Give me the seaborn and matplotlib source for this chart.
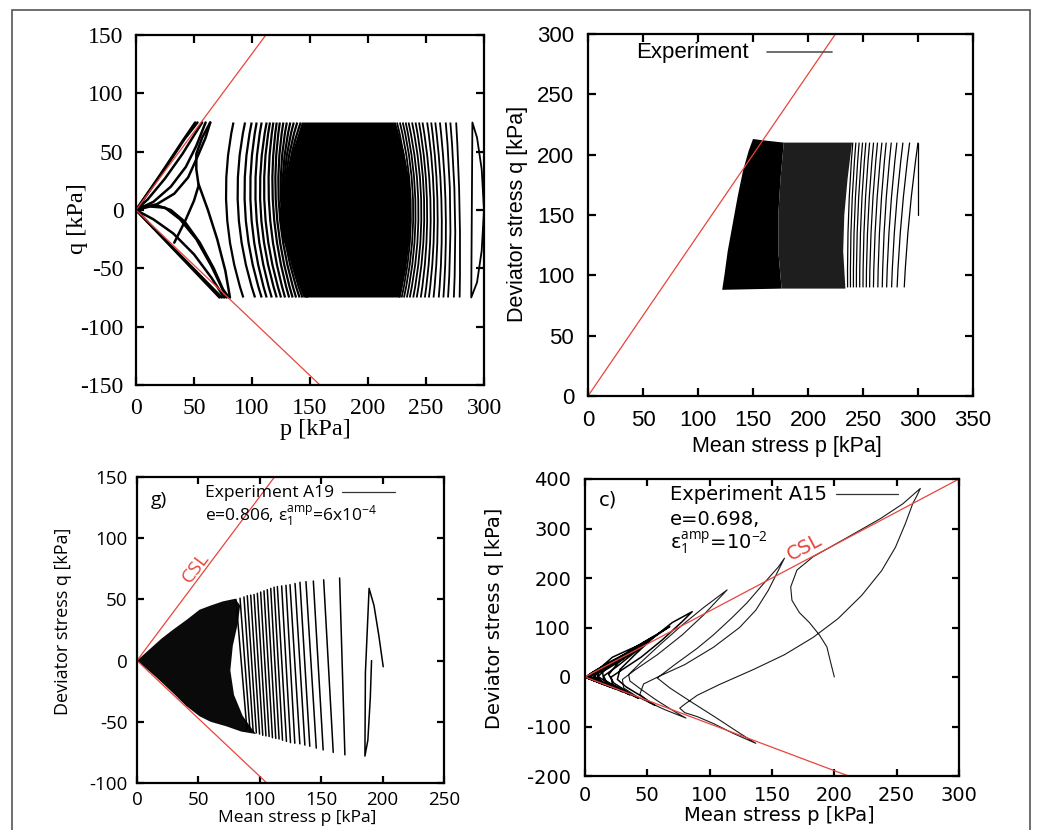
import numpy as np
import pandas as pd
import seaborn as sns
import matplotlib.pyplot as plt
from matplotlib.path import Path
from matplotlib.patches import PathPatch, Rectangle

sns.set_theme(style='ticks')
plt.rcParams['font.family'] = ['DejaVu Sans']
plt.rcParams['mathtext.fontset'] = 'custom'
plt.rcParams['mathtext.rm'] = 'Open Sans'
plt.rcParams['mathtext.default'] = 'rm'
plt.rcParams['axes.unicode_minus'] = False
plt.rcParams['text.color'] = 'black'
plt.rcParams['xtick.color'] = 'black'
plt.rcParams['ytick.color'] = 'black'

# ---------------- data ----------------
# critical state line slopes (compression / extension)
m_comp = 1.34
m_ext = -0.946

# panel a (simulation): q amplitude 75 kPa
a_amp = 75
a_first_p = [300, 298, 294, 290, 289, 294, 298, 300]
a_first_q = [0, 35, 62, 75, -75, -62, -35, 0]
a_right_top = [276, 271, 267, 262, 258, 254.5, 251, 247, 244, 241, 238, 235, 232.5, 230, 227.5, 225]
a_right_mid = [279, 275, 271, 267, 263.5, 260, 257, 254, 251, 248.5, 246, 243.5, 241, 239, 237, 235]
a_right_bot = [279, 274, 269, 265, 261, 256.5, 252.5, 249, 245.5, 242, 239, 236, 233.5, 231, 229, 227]
a_left_top = [84, 94, 99.7, 104, 108.3, 112.6, 115.5, 118.4, 121.3, 124, 127, 130, 133, 136, 139, 142]
a_left_mid = [78, 88, 94, 99, 103.4, 107.4, 111, 115, 118.4, 121, 123.5, 125.5, 127, 128, 129, 130]
a_left_bot = [92.5, 102.6, 108.3, 112.6, 117, 121.3, 125, 128.5, 132, 135, 138, 141, 143.5, 145.5, 147, 148]
a_dense_p = [143, 135, 128, 124, 125, 132, 140, 147, 228, 233, 236, 237, 236, 231, 224]
a_dense_q = [75, 50, 25, 0, -20, -40, -60, -75, -75, -50, -25, 0, 25, 50, 75]
a_fly_p = [[0, 20, 40, 51], [0, 22, 42, 53], [0, 10, 25, 40, 50, 57], [0, 15, 30, 43, 52, 60],
           [2, 18, 33, 45, 54, 60, 64], [64, 57, 52, 52, 54, 50, 43, 37, 33],
           [54, 62, 70, 77, 81], [0, 72], [0, 74], [0, 15, 32, 50, 65, 76],
           [0, 12, 25, 38, 52, 65, 78], [5, 18, 30, 42, 55, 67, 75, 80]]
a_fly_q = [[0, 29, 59, 75], [0, 31, 61, 75], [0, 9, 27, 48, 64, 75], [0, 7, 20, 37, 55, 75],
           [1, 5, 14, 28, 48, 62, 75], [75, 62, 48, 35, 21, 8, -8, -20, -28],
           [22, 0, -25, -52, -75], [0, -75], [0, -75], [0, -8, -20, -38, -58, -75],
           [0, 3, 2, -8, -25, -48, -75], [3, 4, 0, -10, -28, -50, -68, -75]]

# panel b (experiment): strokes between q_lo and q_hi
b_q_hi = 210
b_q_lo = 90
b_start_p = [300, 300]
b_start_q = [150, 210]
b_top = [300, 292.4, 286.3, 280.8, 275.7, 271.1, 267.2, 263.2, 259.6, 256, 252.6, 249.6, 246.5,
         243.5, 240.7]
b_bot = [287.5, 281, 276, 271.5, 267.5, 263.5, 259.5, 256, 253, 250, 247, 244, 241.3, 238.6, 236]
b_black_p = [122, 124, 127, 131, 136, 141, 146, 150, 158, 178, 175, 173, 173, 176]
b_black_q = [88, 100, 120, 140, 165, 187, 203, 213, 212, 210, 180, 150, 120, 89]
b_moire_p = [176, 173, 173, 175, 178, 240, 236, 233, 232, 234]
b_moire_q = [89, 120, 150, 180, 210, 210, 180, 150, 120, 89]

# panel c (experiment A19)
c_first_p = [200.5, 197, 193, 189, 186, 185.6, 188, 190, 191]
c_first_q = [-5, 20, 45, 59, -10, -78, -65, -30, 0]
c_top_p = [165, 152, 143.6, 137.6, 132.7, 128.7, 124.6, 121.3, 117.8, 114.3, 111.6, 108.9,
           106.1, 103.4, 100.7, 98, 95.3, 92.6, 89.8, 87.1, 83.9, 80.6]
c_top_q = [67.5, 66, 65, 64.5, 64, 63, 62, 61.5, 61, 60.5, 60, 59, 58, 57, 56, 55, 54, 53.5,
           53, 52, 51, 50]
c_bot_p = [169.3, 159.8, 151.6, 146, 140.7, 136.7, 132.6, 128.5, 125, 121.7, 118.5, 115.7,
           113, 110.3, 107.6, 105, 102.4, 99.8, 97.2, 94.6, 92, 89.5]
c_bot_q = [-77, -75, -73, -71.5, -70, -69, -68, -67.5, -67, -66, -65, -64, -63.5, -63, -62,
           -61.5, -61, -60, -59, -58, -57, -56]
c_dense_p = [0, 10, 20, 29, 40, 51, 60, 70, 80, 84, 82, 78, 76, 79, 86, 93, 97, 85, 72.8, 60,
             51, 40, 29.3, 15]
c_dense_q = [0, 9, 18, 25, 33, 41.6, 45, 48.4, 50.5, 45, 30, 12, -8, -28, -45, -55, -60, -58,
             -53.7, -50, -45.5, -37, -26.4, -13]

# panel d (experiment A15): one continuous stress path, large cycles first
d_big_p = [200, 197, 194, 188, 180, 172, 166, 165, 170, 183, 207, 237, 255, 269,
           266, 263, 257, 249, 238, 222, 203, 183, 160, 135, 108, 90, 80, 76,
           80, 90, 103, 119, 137,
           125, 105, 85, 68, 58, 72, 90, 103, 118, 130, 142, 149, 155, 160,
           155, 147, 137, 124, 103, 80, 60, 47, 44, 52, 64, 81,
           72, 58, 45, 36, 35, 45, 60, 78, 95, 114,
           108, 95, 78, 58, 40, 30, 31, 42, 56]
d_big_q = [0, 30, 61, 85, 110, 130, 155, 182, 216, 243, 277, 320, 350, 381,
           365, 351, 310, 262, 215, 165, 118, 80, 45, 15, -15, -37, -55, -63,
           -72, -80, -94, -114, -134,
           -115, -82, -50, -22, -2, 25, 58, 85, 120, 150, 185, 205, 222, 240,
           215, 175, 135, 100, 60, 25, 2, -14, -35, -52, -66, -83,
           -70, -48, -25, -8, 5, 30, 65, 105, 140, 176,
           160, 125, 85, 45, 14, -5, -22, -40, -57]
# then the small cycles that pile up towards the origin
d_small_p = [56, 46, 33, 26, 28, 40, 55, 70, 86,
             78, 62, 45, 30, 21, 22, 32, 43,
             33, 23, 19, 27, 44, 68,
             55, 40, 25, 15, 18, 36,
             25, 15, 14, 25, 40, 55,
             45, 30, 15, 10, 14, 30,
             18, 10, 12, 22, 35, 45,
             33, 20, 9, 6, 10, 24,
             13, 7, 9, 18, 30, 37,
             26, 14, 5, 4, 8, 20,
             10, 5, 7, 15, 24, 30,
             20, 10, 3, 3, 7, 16,
             8, 3, 5, 12, 20, 24,
             16, 8, 3, 2, 5, 13,
             6, 2, 4, 9, 15, 19,
             12, 6, 2, 2, 4, 10,
             5, 2, 3, 7, 11, 15,
             9, 4, 2, 1, 3, 8,
             3, 1, 2, 5, 8, 11,
             6, 3, 1, 1, 2, 6, 2, 0]
d_small_q = [-57, -40, -20, -5, 15, 45, 80, 110, 132,
             112, 75, 40, 15, 0, -15, -30, -43,
             -28, -12, 5, 30, 65, 102,
             80, 50, 20, 2, -15, -36,
             -20, -5, 10, 35, 60, 82,
             62, 35, 12, 0, -12, -30,
             -12, 2, 18, 40, 55, 66,
             45, 22, 5, -4, -10, -24,
             -8, 2, 14, 28, 44, 52,
             34, 14, 4, -3, -8, -20,
             -6, 1, 11, 22, 34, 42,
             26, 10, 2, -3, -7, -16,
             -4, 0, 8, 17, 28, 34,
             20, 8, 2, -2, -5, -13,
             -3, 0, 6, 13, 22, 27,
             15, 6, 1, -2, -4, -10,
             -2, 0, 4, 9, 15, 21,
             11, 4, 1, -1, -3, -8,
             -1, 0, 3, 7, 12, 15,
             8, 3, 0, -1, -2, -6, -1, 0]

# ---------------- helpers ----------------
W, H = 1038, 830
fig = plt.figure(figsize=(W / 100, H / 100), dpi=100)


def box(x0, y0, x1, y1):
    return [x0 / W, 1 - y1 / H, (x1 - x0) / W, (y1 - y0) / H]


def curves_frame(ps, qs):
    rows = []
    for k, (pp, qq) in enumerate(zip(ps, qs)):
        for i, (p, q) in enumerate(zip(pp, qq)):
            rows.append((k, i, p, q))
    return pd.DataFrame(rows, columns=['unit', 'order', 'p', 'q'])


def bez(ax, start, mid, end, lw, color='black'):
    # smooth quadratic curve passing through start, mid and end readings
    ctrl = (2 * mid[0] - (start[0] + end[0]) / 2, 2 * mid[1] - (start[1] + end[1]) / 2)
    path = Path([start, ctrl, end], [Path.MOVETO, Path.CURVE3, Path.CURVE3])
    ax.add_patch(PathPatch(path, fc='none', ec=color, lw=lw))


def style_axes(ax, xlim, ylim, xstep, ystep, fam, size, tlen, pad_x, pad_y, spine_w):
    ax.set_xlim(*xlim)
    ax.set_ylim(*ylim)
    ax.set_xticks(np.arange(xlim[0], xlim[1] + 1, xstep))
    ax.set_yticks(np.arange(ylim[0], ylim[1] + 1, ystep))
    ax.tick_params(direction='in', length=tlen, width=spine_w, top=True, right=True,
                   labelsize=size, colors='black')
    ax.tick_params(axis='x', pad=pad_x)
    ax.tick_params(axis='y', pad=pad_y)
    for lab in ax.get_xticklabels() + ax.get_yticklabels():
        lab.set_family(fam)
    for s in ax.spines.values():
        s.set_linewidth(spine_w)
        s.set_color('black')
    ax.set_xlabel('')
    ax.set_ylabel('')
    ax.set_facecolor('white')


def csl(ax, xmax, slope, color='#e8453c', lw=0.9):
    xs = np.array([0, xmax])
    sns.lineplot(x=xs, y=slope * xs, color=color, lw=lw, ax=ax, sort=False, estimator=None)


# ---------------- panel a ----------------
ax = fig.add_axes(box(136, 35, 484, 385))
ax.fill(a_dense_p, a_dense_q, color='black', lw=0)
for t, m, b in zip(a_right_top, a_right_mid, a_right_bot):
    bez(ax, (t, a_amp), (m, 0), (b, -a_amp), 1.3)
for t, m, b in zip(a_left_top, a_left_mid, a_left_bot):
    bez(ax, (t, a_amp), (m, 0), (b, -a_amp), 1.6)
sns.lineplot(x=a_first_p, y=a_first_q, sort=False, estimator=None, color='black', lw=1.3, ax=ax)
fly = curves_frame(a_fly_p, a_fly_q)
sns.lineplot(data=fly, x='p', y='q', units='unit', estimator=None, sort=False,
             color='black', lw=1.8, ax=ax, legend=False)
csl(ax, 300, m_comp)
csl(ax, 300, m_ext)
style_axes(ax, (0, 300), (-150, 150), 50, 50, 'Liberation Serif', 17, 6, 9, 9, 1.6)
fig.text(77 / W, 1 - 219 / H, 'q [kPa]', rotation=90, ha='center', va='center',
         family='Liberation Serif', fontsize=17.5)
fig.text(315 / W, 1 - 429 / H, 'p [kPa]', ha='center', va='center',
         family='Liberation Serif', fontsize=17.5)

# ---------------- panel b ----------------
ax = fig.add_axes(box(588, 34, 973, 396))
ax.fill(b_black_p, b_black_q, color='black', lw=0)
ax.fill(b_moire_p, b_moire_q, color='#1e1e1e', lw=0)
for t, b in zip(b_top, b_bot):
    bez(ax, (b, b_q_lo), ((t + b) / 2 - 1.5, (b_q_hi + b_q_lo) / 2), (t, b_q_hi), 0.9)
sns.lineplot(x=b_start_p, y=b_start_q, sort=False, estimator=None, color='black', lw=0.9, ax=ax)
csl(ax, 350, 4 / 3)
style_axes(ax, (0, 350), (0, 300), 50, 50, 'Liberation Sans', 16, 6, 10, 10, 1.6)
ax.plot([0.465, 0.635], [0.95, 0.95], transform=ax.transAxes, color='#555555', lw=1.2)
ax.text(0.125, 0.95, 'Experiment', transform=ax.transAxes, ha='left', va='center',
        family='Liberation Sans', fontsize=16)
fig.text(517 / W, 1 - 214 / H, 'Deviator stress q [kPa]', rotation=90, ha='center', va='center',
         family='Liberation Sans', fontsize=15.5)
fig.text(787 / W, 1 - 446 / H, 'Mean stress p [kPa]', ha='center', va='center',
         family='Liberation Sans', fontsize=15.5)

# ---------------- panel c ----------------
ax = fig.add_axes(box(137, 477, 444, 783))
ax.fill(c_dense_p, c_dense_q, color='#0a0a0a', lw=0)
c_strokes = curves_frame([c_first_p] + [[t, b] for t, b in zip(c_top_p, c_bot_p)],
                         [c_first_q] + [[t, b] for t, b in zip(c_top_q, c_bot_q)])
sns.lineplot(data=c_strokes, x='p', y='q', units='unit', estimator=None, sort=False,
             color='black', lw=1.1, ax=ax, legend=False)
csl(ax, 250, m_comp)
csl(ax, 250, m_ext)
style_axes(ax, (0, 250), (-100, 150), 50, 50, 'Open Sans', 13.5, 5, 6, 7, 1.6)
ax.text(0.22, 0.947, 'Experiment A19', transform=ax.transAxes, ha='left', va='center',
        family='Open Sans', fontsize=12.5)
ax.plot([0.668, 0.84], [0.95, 0.95], transform=ax.transAxes, color='#333333', lw=0.9)
ax.text(0.22, 0.872, 'e=0.806, ε$_1^{\\rm amp}$=6x10$^{-4}$', transform=ax.transAxes,
        ha='left', va='center', family='Open Sans', fontsize=12.5)
ax.text(0.07, 0.925, 'g)', transform=ax.transAxes, ha='center', va='center',
        family='Open Sans', fontsize=14)
ax.text(48, 76, 'CSL', rotation=53, color='#e8453c', ha='center', va='center',
        family='Open Sans', fontsize=14)
fig.text(63 / W, 1 - 621 / H, 'Deviator stress q [kPa]', rotation=90, ha='center', va='center',
         family='Open Sans', fontsize=13)
fig.text(297 / W, 1 - 818 / H, 'Mean stress p [kPa]', ha='center', va='center',
         family='Open Sans', fontsize=12.5)

# ---------------- panel d ----------------
ax = fig.add_axes(box(585, 479, 959, 776))
sns.lineplot(x=d_big_p, y=d_big_q, sort=False, estimator=None, color='#1a1a1a', lw=0.8, ax=ax)
sns.lineplot(x=d_small_p, y=d_small_q, sort=False, estimator=None, color='black', lw=1.1, ax=ax)
csl(ax, 300, 4 / 3)
csl(ax, 300, m_ext)
style_axes(ax, (0, 300), (-200, 400), 50, 100, 'DejaVu Sans', 14, 5, 7, 10, 1.6)
ax.text(0.228, 0.947, 'Experiment A15', transform=ax.transAxes, ha='left', va='center',
        family='DejaVu Sans', fontsize=14)
ax.plot([0.67, 0.838], [0.95, 0.95], transform=ax.transAxes, color='#333333', lw=0.9)
ax.text(0.228, 0.863, 'e=0.698,', transform=ax.transAxes, ha='left', va='center',
        family='DejaVu Sans', fontsize=14)
ax.text(0.228, 0.785, 'ε$_1^{\\rm amp}$=10$^{-2}$', transform=ax.transAxes, ha='left',
        va='center', family='DejaVu Sans', fontsize=14)
ax.text(0.063, 0.93, 'c)', transform=ax.transAxes, ha='center', va='center',
        family='DejaVu Sans', fontsize=14)
ax.text(176, 262, 'CSL', rotation=28, color='#e8453c', ha='center', va='center',
        family='DejaVu Sans', fontsize=14)
fig.text(495 / W, 1 - 618 / H, 'Deviator stress q [kPa]', rotation=90, ha='center', va='center',
         family='DejaVu Sans', fontsize=14)
fig.text(779 / W, 1 - 815 / H, 'Mean stress p [kPa]', ha='center', va='center',
         family='DejaVu Sans', fontsize=14)

# outer frame
fig.patches.append(Rectangle((12 / W, -0.02), (1030 - 12) / W, 1.02 - 10 / H,
                             transform=fig.transFigure, fill=False, ec='#555555', lw=1.2))

fig.savefig('out.png', dpi=100)
